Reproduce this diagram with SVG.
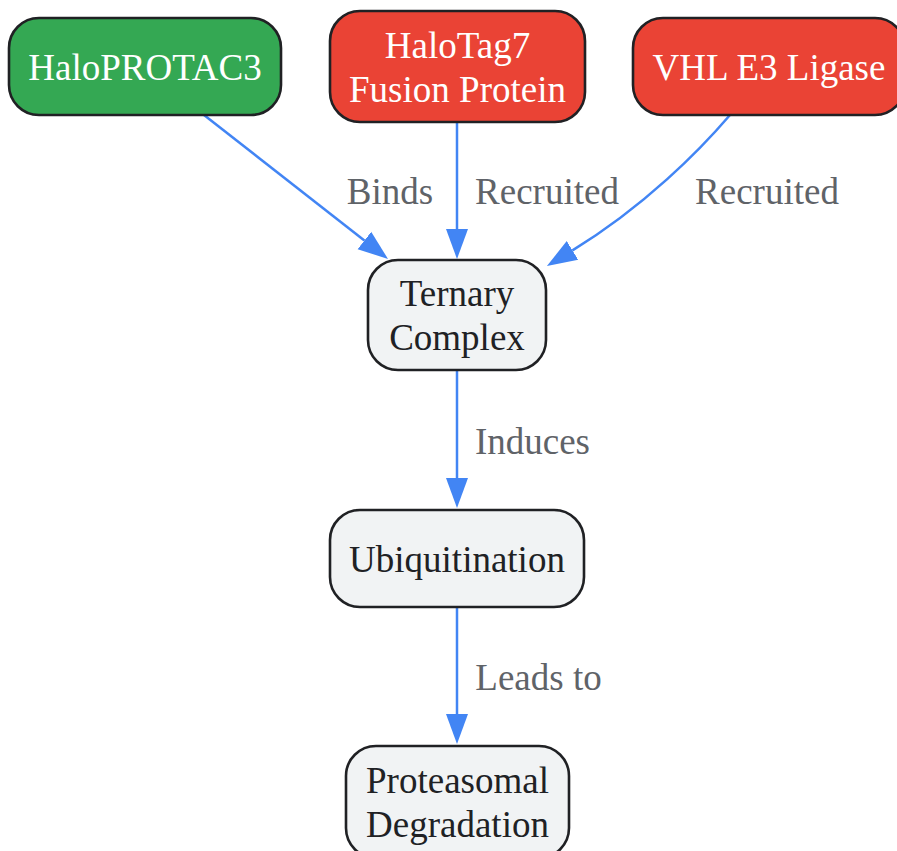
<svg xmlns="http://www.w3.org/2000/svg" width="897" height="851" viewBox="0 0 897 851">
<style>
.node rect{stroke:#202124;stroke-width:2.6}
.green rect{fill:#34A853}
.red rect{fill:#EA4335}
.grey rect{fill:#F1F3F4}
.node text{font-family:"Liberation Serif","Times New Roman",serif;font-size:37px;text-anchor:middle}
.green text,.red text{fill:#FFFFFF}
.grey text{fill:#202124}
.edge{fill:none;stroke:#4285F4;stroke-width:2.5}
.lbl{font-family:"Liberation Serif","Times New Roman",serif;font-size:37px;fill:#5F6368;text-anchor:middle}
</style>
<defs>
<marker id="arrow" markerUnits="userSpaceOnUse" markerWidth="32" markerHeight="24" refX="0" refY="11" orient="auto" viewBox="0 0 32 22">
<path d="M0,0 L30,11 L0,22 z" fill="#4285F4"/>
</marker>
</defs>
<rect width="897" height="851" fill="#FFFFFF"/>
<g id="connectors">
<path class="edge" d="M204,115 L364.4,240.5" marker-end="url(#arrow)"/>
<path class="edge" d="M457,122 L457,229" marker-end="url(#arrow)"/>
<path class="edge" d="M730,115 C700,150 645,206 572.5,250.4" marker-end="url(#arrow)"/>
<path class="edge" d="M457,370 L457,478" marker-end="url(#arrow)"/>
<path class="edge" d="M457,607 L457,714" marker-end="url(#arrow)"/>
<text class="lbl" x="390" y="204">Binds</text>
<text class="lbl" x="547" y="204">Recruited</text>
<text class="lbl" x="767" y="204">Recruited</text>
<text class="lbl" x="532.5" y="454">Induces</text>
<text class="lbl" x="538.5" y="690">Leads to</text>
</g>
<g id="halopro" class="node green">
<rect x="9" y="18" width="272" height="97" rx="30" ry="30"/>
<text x="145" y="80">HaloPROTAC3</text>
</g>
<g id="halotag" class="node red">
<rect x="330" y="11" width="255" height="111" rx="30" ry="30"/>
<text x="457.5" y="58">HaloTag7</text>
<text x="457.5" y="101.5">Fusion Protein</text>
</g>
<g id="vhl" class="node red">
<rect x="633" y="18" width="272" height="97" rx="30" ry="30"/>
<text x="769" y="80">VHL E3 Ligase</text>
</g>
<g id="ternary" class="node grey">
<rect x="368" y="260" width="178" height="110" rx="30" ry="30"/>
<text x="457" y="306">Ternary</text>
<text x="457" y="350">Complex</text>
</g>
<g id="ubiq" class="node grey">
<rect x="330" y="510" width="254" height="97" rx="30" ry="30"/>
<text x="457" y="572">Ubiquitination</text>
</g>
<g id="proteasomal" class="node grey">
<rect x="346" y="746" width="223" height="112" rx="30" ry="30"/>
<text x="457.5" y="793">Proteasomal</text>
<text x="457.5" y="837">Degradation</text>
</g>
</svg>
